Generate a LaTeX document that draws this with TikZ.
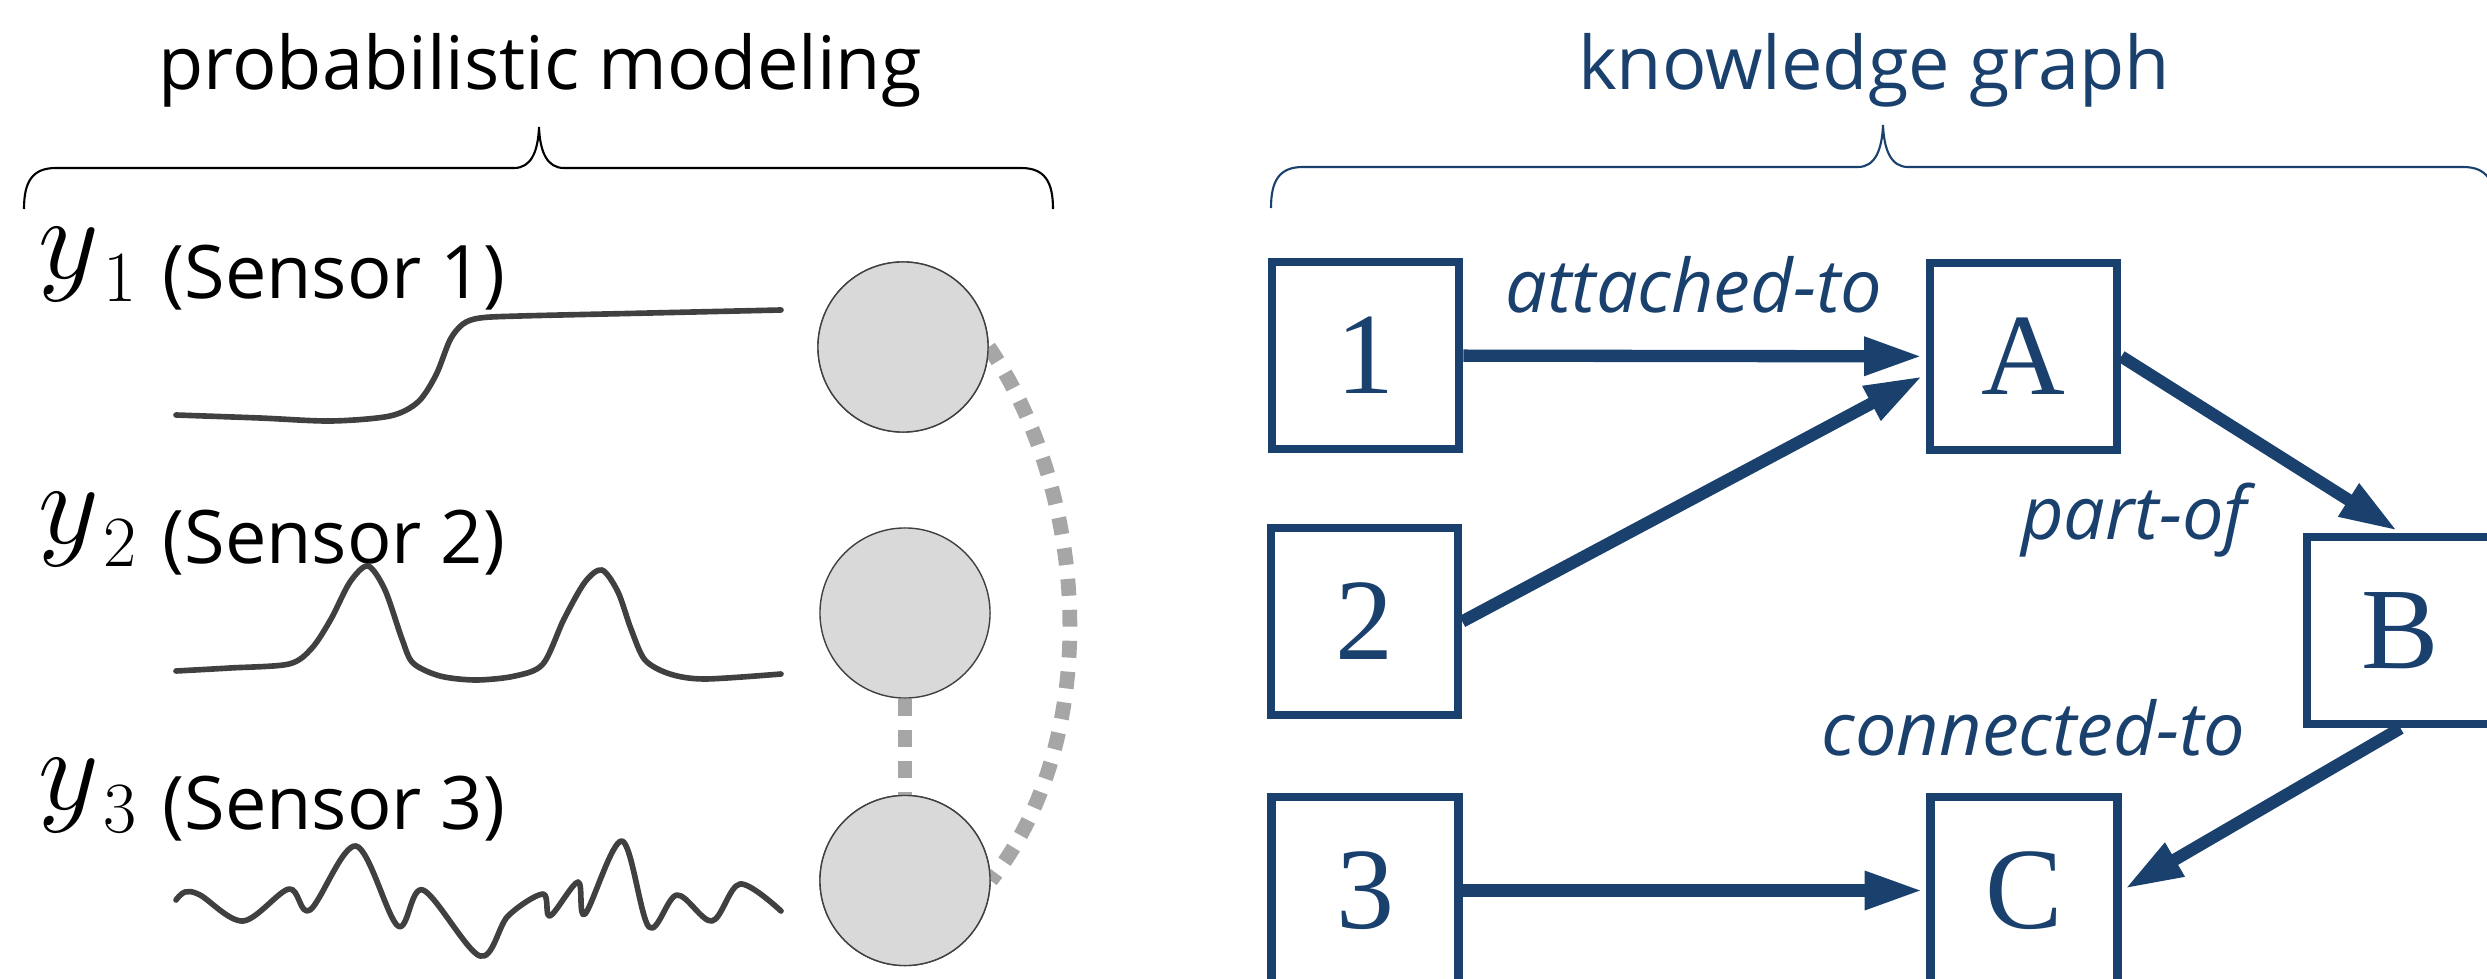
\RequirePackage{fix-cm}
\documentclass[tikz,border=0pt]{standalone}
\usepackage{fontspec}
\newfontfamily\osans{Open Sans}
\newfontfamily\tserif{Liberation Serif}
\usetikzlibrary{arrows.meta,calc}
\definecolor{kgblue}{RGB}{26,65,110}
\definecolor{curvegray}{RGB}{64,64,64}
\definecolor{dotgray}{RGB}{166,166,166}
\definecolor{nodefill}{RGB}{217,217,217}
\begin{document}
\begin{tikzpicture}[x=0.01cm,y=-0.01cm,
  title/.style={font=\osans\fontsize{21}{25}\selectfont, inner sep=0, anchor=base},
  sensortext/.style={font=\osans\fontsize{21}{25}\selectfont, inner sep=0, anchor=base west},
  ymath/.style={font=\fontsize{33.6}{40}\selectfont, inner sep=0, anchor=south west},
  ysub/.style={font=\fontsize{20.5}{24}\selectfont, inner sep=0, anchor=base west},
  signal/.style={curvegray, line width=1.6pt, line join=round, line cap=round},
  var/.style={circle, draw=curvegray, line width=0.4pt, fill=nodefill, minimum size=1.70cm, inner sep=0},
  link/.style={dotgray, line width=4.2pt, dash pattern=on 4.8pt off 4pt},
  entity/.style={draw=kgblue, line width=2.4pt, minimum size=1.87cm, inner sep=0, text=kgblue, font=\tserif\fontsize{33}{36}\selectfont},
  rel/.style={kgblue, line width=3.5pt, -{Triangle[length=16.5pt,width=10.2pt]}, shorten >=1pt},
  rellabel/.style={text=kgblue, font=\osans\itshape\fontsize{21}{25}\selectfont, inner sep=0, anchor=base},
  bracepath/.style={line width=0.6pt}
]
\useasboundingbox (0,0) rectangle (2487,979);
\clip (0,0) rectangle (2487,979);

% ---------- left: probabilistic modeling ----------
\node[title] (ptitle) at (540,90) {probabilistic modeling};
\draw[bracepath, black] (24,209) .. controls (24,182) and (32,168) .. (56,168) -- (514,168)
   .. controls (531,168) and (538,152) .. (539,127)
   .. controls (540,152) and (547,168) .. (564,168) -- (1021,168)
   .. controls (1045,168) and (1053,182) .. (1053,209);

% labels
\node[ymath] (y1) at (38,302) {$y$};
\node[ysub] (s1) at (103,301) {1};
\node[sensortext] (t1) at (162,298) {(Sensor 1)};
\node[ymath] (y2) at (38,567.5) {$y$};
\node[ysub] (s2) at (103,566.5) {2};
\node[sensortext] (t2) at (162,563.5) {(Sensor 2)};
\node[ymath] (y3) at (38,833) {$y$};
\node[ysub] (s3) at (103,832) {3};
\node[sensortext] (t3) at (162,829) {(Sensor 3)};

% signals
\draw[signal] plot[smooth, tension=0.5] coordinates {(176,415) (260,418) (331,421) (390,416) (418,402) (436,375) (450,340) (463,324) (480,318) (520,316) (650,313) (781,310)};
\draw[signal] plot[smooth, tension=0.5] coordinates {(176,671) (230,668) (289,664) (312,648) (331,619) (350,582) (368,566) (385,590) (402,639) (413,663) (440,676) (476,680) (515,676) (543,664) (564,619) (585,582) (602,570) (618,592) (631,629) (645,660) (670,674) (705,679) (781,674)};
\draw[signal] plot[smooth, tension=0.55] coordinates {(176,900) (185,892) (200,895) (243,921) (289,889) (310,910) (356,846) (398,926) (423,890) (480,956) (508,916) (543,894) (550,916) (578,882) (585,914) (622,841) (649,927) (677,895) (712,921) (740,884) (781,911)};

% variables
\node[var] (c1) at (903,347) {};
\node[var] (c2) at (905,613) {};
\node[var] (c3) at (905,880.5) {};
\draw[link] (c2) -- (c3);
\draw[link] (c1.east) .. controls (1091,498) and (1102,740) .. (c3.east);
\node[var] at (c1) {};
\node[var] at (c3) {};

% ---------- right: knowledge graph ----------
\node[title, text=kgblue] (ktitle) at (1874,90) {knowledge graph};
\draw[bracepath, kgblue] (1271,208) .. controls (1271,181) and (1279,167) .. (1303,167) -- (1858,167)
   .. controls (1875,167) and (1882,150) .. (1883,125)
   .. controls (1884,150) and (1891,167) .. (1908,167) -- (2463,167)
   .. controls (2487,167) and (2495,181) .. (2495,208);

\node[entity] (n1) at (1365.5,355.5) {1};
\node[entity] (n2) at (1364.5,621.5) {2};
\node[entity] (n3) at (1365,890.5) {3};
\node[entity] (A) at (2023.5,356.5) {A};
\node[entity] (B) at (2400.5,630.5) {B};
\node[entity] (C) at (2024,890.5) {C};

\draw[rel] (n1) -- (A);
\draw[rel] (n2.east) -- ($(A.west)+(0,18)$);
\draw[rel] (A.east) -- (B.north);
\draw[rel] (B.south) -- (C.east);
\draw[rel] (n3) -- (C);

\node[rellabel] (l1) at (1694,313) {attached-to};
\node[rellabel] (l2) at (2134,539) {part-of};
\node[rellabel] (l3) at (2033.5,755) {connected-to};
\end{tikzpicture}
\end{document}
